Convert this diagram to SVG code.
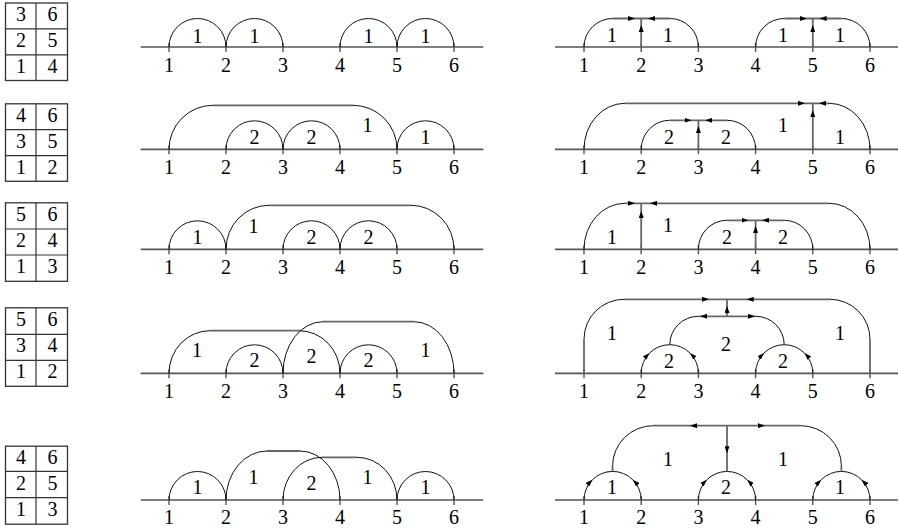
<svg xmlns="http://www.w3.org/2000/svg" width="899" height="528" viewBox="0 0 899 528">
<style>
text{font-family:"Liberation Serif","Times New Roman",serif;font-size:20px;text-anchor:middle;fill:#000}
.tb{fill:#fff;stroke:#333;stroke-width:1.3}
.tl{stroke:#333;stroke-width:1.2;fill:none}
.ax{stroke:#555;stroke-width:1.7;fill:none}
.tk{stroke:#555;stroke-width:1.4;fill:none}
.c{fill:none;stroke:#111;stroke-width:1}
.s{fill:none;stroke:#666;stroke-width:1.8}
.a{fill:none;stroke:none;marker-end:url(#ah)}
</style>
<defs>
<marker id="ah" viewBox="0 0 7 5" refX="7" refY="2.5" markerWidth="7" markerHeight="5" markerUnits="userSpaceOnUse" orient="auto"><path d="M0,0 L7,2.5 L0,5 Z" fill="#000"/></marker>
</defs>

<!-- Tableaux -->
<g id="tab1" transform="translate(5.5,3)">
<rect class="tb" x="0" y="0" width="62" height="77.5"/>
<path class="tl" d="M30.5,0 V77.5 M0,25.8 H62 M0,51.8 H62"/>
<text x="15.5" y="18">3</text><text x="47" y="18">6</text>
<text x="15.5" y="44">2</text><text x="47" y="44">5</text>
<text x="15.5" y="70">1</text><text x="47" y="70">4</text>
</g>
<g id="tab2" transform="translate(5.5,103.8)">
<rect class="tb" x="0" y="0" width="62" height="77.5"/>
<path class="tl" d="M30.5,0 V77.5 M0,25.8 H62 M0,51.8 H62"/>
<text x="15.5" y="18">4</text><text x="47" y="18">6</text>
<text x="15.5" y="44">3</text><text x="47" y="44">5</text>
<text x="15.5" y="70">1</text><text x="47" y="70">2</text>
</g>
<g id="tab3" transform="translate(5.5,202.8)">
<rect class="tb" x="0" y="0" width="62" height="78.5"/>
<path class="tl" d="M30.5,0 V78.5 M0,26.2 H62 M0,52.2 H62"/>
<text x="15.5" y="18">5</text><text x="47" y="18">6</text>
<text x="15.5" y="44">2</text><text x="47" y="44">4</text>
<text x="15.5" y="70">1</text><text x="47" y="70">3</text>
</g>
<g id="tab4" transform="translate(5.5,307.8)">
<rect class="tb" x="0" y="0" width="62" height="78.5"/>
<path class="tl" d="M30.5,0 V78.5 M0,26.5 H62 M0,52.5 H62"/>
<text x="15.5" y="18">5</text><text x="47" y="18">6</text>
<text x="15.5" y="44">3</text><text x="47" y="44">4</text>
<text x="15.5" y="70">1</text><text x="47" y="70">2</text>
</g>
<g id="tab5" transform="translate(5.5,446.2)">
<rect class="tb" x="0" y="0" width="62" height="78"/>
<path class="tl" d="M30.5,0 V78 M0,25.2 H62 M0,51.5 H62"/>
<text x="15.5" y="18">4</text><text x="47" y="18">6</text>
<text x="15.5" y="44">2</text><text x="47" y="44">5</text>
<text x="15.5" y="70">1</text><text x="47" y="70">3</text>
</g>

<!-- Axes with ticks and point labels -->
<g id="axes">
<path class="ax" d="M140.7,47 H483.3 M140.7,149.3 H483.3 M140.7,249.3 H483.3 M140.7,373.3 H483.3 M140.7,500 H483.3"/>
<path class="ax" d="M555,47 H898 M555,149.3 H898 M555,249.3 H898 M555,373.3 H898 M555,500 H898"/>
<path class="tk" d="M169,43V52M226,43V52M283,43V52M340,43V52M397,43V52M454,43V52
M169,145.3V154.3M226,145.3V154.3M283,145.3V154.3M340,145.3V154.3M397,145.3V154.3M454,145.3V154.3
M169,245.3V254.3M226,245.3V254.3M283,245.3V254.3M340,245.3V254.3M397,245.3V254.3M454,245.3V254.3
M169,369.3V378.3M226,369.3V378.3M283,369.3V378.3M340,369.3V378.3M397,369.3V378.3M454,369.3V378.3
M169,496V505M226,496V505M283,496V505M340,496V505M397,496V505M454,496V505"/>
<path class="tk" d="M584,43V52M641.2,43V52M698.4,43V52M755.6,43V52M812.8,43V52M870,43V52
M584,145.3V154.3M641.2,145.3V154.3M698.4,145.3V154.3M755.6,145.3V154.3M812.8,145.3V154.3M870,145.3V154.3
M584,245.3V254.3M641.2,245.3V254.3M698.4,245.3V254.3M755.6,245.3V254.3M812.8,245.3V254.3M870,245.3V254.3
M584,369.3V378.3M641.2,369.3V378.3M698.4,369.3V378.3M755.6,369.3V378.3M812.8,369.3V378.3M870,369.3V378.3
M584,496V505M641.2,496V505M698.4,496V505M755.6,496V505M812.8,496V505M870,496V505"/>
</g>
<g id="pointlabels">
<text x="169" y="71.5">1</text><text x="226" y="71.5">2</text><text x="283" y="71.5">3</text><text x="340" y="71.5">4</text><text x="397" y="71.5">5</text><text x="454" y="71.5">6</text>
<text x="169" y="173.5">1</text><text x="226" y="173.5">2</text><text x="283" y="173.5">3</text><text x="340" y="173.5">4</text><text x="397" y="173.5">5</text><text x="454" y="173.5">6</text>
<text x="169" y="273.5">1</text><text x="226" y="273.5">2</text><text x="283" y="273.5">3</text><text x="340" y="273.5">4</text><text x="397" y="273.5">5</text><text x="454" y="273.5">6</text>
<text x="169" y="397.5">1</text><text x="226" y="397.5">2</text><text x="283" y="397.5">3</text><text x="340" y="397.5">4</text><text x="397" y="397.5">5</text><text x="454" y="397.5">6</text>
<text x="169" y="524">1</text><text x="226" y="524">2</text><text x="283" y="524">3</text><text x="340" y="524">4</text><text x="397" y="524">5</text><text x="454" y="524">6</text>
<text x="584" y="71.5">1</text><text x="641.2" y="71.5">2</text><text x="698.4" y="71.5">3</text><text x="755.6" y="71.5">4</text><text x="812.8" y="71.5">5</text><text x="870" y="71.5">6</text>
<text x="584" y="173.5">1</text><text x="641.2" y="173.5">2</text><text x="698.4" y="173.5">3</text><text x="755.6" y="173.5">4</text><text x="812.8" y="173.5">5</text><text x="870" y="173.5">6</text>
<text x="584" y="273.5">1</text><text x="641.2" y="273.5">2</text><text x="698.4" y="273.5">3</text><text x="755.6" y="273.5">4</text><text x="812.8" y="273.5">5</text><text x="870" y="273.5">6</text>
<text x="584" y="397.5">1</text><text x="641.2" y="397.5">2</text><text x="698.4" y="397.5">3</text><text x="755.6" y="397.5">4</text><text x="812.8" y="397.5">5</text><text x="870" y="397.5">6</text>
<text x="584" y="524">1</text><text x="641.2" y="524">2</text><text x="698.4" y="524">3</text><text x="755.6" y="524">4</text><text x="812.8" y="524">5</text><text x="870" y="524">6</text>
</g>

<g id="connectors">
<!-- Middle column arc diagrams -->
<g id="mid1">
<path class="c" d="M169,47 A28.5,28.5 0 0 1 226,47 A28.5,28.5 0 0 1 283,47 M340,47 A28.5,28.5 0 0 1 397,47 A28.5,28.5 0 0 1 454,47"/>
</g>
<g id="mid2">
<path class="c" d="M169,149.3 A44,44 0 0 1 213,105.3 M353,105.3 A44,44 0 0 1 397,149.3"/>
<path class="s" d="M213,105.3 H353"/>
<path class="c" d="M226,149.3 A28.5,28.5 0 0 1 283,149.3 A28.5,28.5 0 0 1 340,149.3 M397,149.3 A28.5,28.5 0 0 1 454,149.3"/>
</g>
<g id="mid3">
<path class="c" d="M169,249.3 A28.5,28.5 0 0 1 226,249.3 M283,249.3 A28.5,28.5 0 0 1 340,249.3 A28.5,28.5 0 0 1 397,249.3"/>
<path class="c" d="M226,249.3 A43,44 0 0 1 269,205.3 M411,205.3 A43,44 0 0 1 454,249.3"/>
<path class="s" d="M269,205.3 H411"/>
</g>
<g id="mid4">
<path class="c" d="M169,373.3 A41,42.6 0 0 1 210,330.7 M299,330.7 A41,42.6 0 0 1 340,373.3"/>
<path class="s" d="M210,330.7 H299"/>
<path class="c" d="M283,373.3 A40,51.6 0 0 1 323,321.7 M414,321.7 A40,51.6 0 0 1 454,373.3"/>
<path class="s" d="M323,321.7 H414"/>
<path class="c" d="M226,373.3 A28.5,28.5 0 0 1 283,373.3 M340,373.3 A28.5,28.5 0 0 1 397,373.3"/>
</g>
<g id="mid5">
<path class="c" d="M169,500 A28.5,28.5 0 0 1 226,500 M397,500 A28.5,28.5 0 0 1 454,500"/>
<path class="c" d="M226,500 A41,49 0 0 1 267,451 M300,451 A40,49 0 0 1 340,500"/>
<path class="s" d="M267,451 H300"/>
<path class="c" d="M283,500 A39,42.7 0 0 1 322,457.3 M357,457.3 A40,42.7 0 0 1 397,500"/>
<path class="s" d="M322,457.3 H357"/>
</g>

<!-- Right column tree diagrams -->
<g id="right1">
<path class="c" d="M584,47 A28.6,28.5 0 0 1 612.6,18.5 M669.8,18.5 A28.6,28.5 0 0 1 698.4,47 M755.6,47 A28.6,28.5 0 0 1 784.2,18.5 M841.4,18.5 A28.6,28.5 0 0 1 870,47"/>
<path class="s" d="M612.6,18.5 H669.8 M641.2,47 V18.5 M784.2,18.5 H841.4 M812.8,47 V18.5"/>
<path class="a" d="M628,18.5 H635"/>
<path class="a" d="M655,18.5 H648"/>
<path class="a" d="M641.2,32 V25"/>
<path class="a" d="M799.8,18.5 H806.8"/>
<path class="a" d="M826.6,18.5 H819.6"/>
<path class="a" d="M812.8,32 V25"/>
</g>
<g id="right2">
<path class="c" d="M584,149.3 A41,46 0 0 1 625,103.3 M829,103.3 A41,46 0 0 1 870,149.3"/>
<path class="s" d="M625,103.3 H829 M812.8,149.3 V103.3"/>
<path class="c" d="M641.2,149.3 A28.5,29 0 0 1 669.7,120.3 M727.1,120.3 A28.5,29 0 0 1 755.6,149.3"/>
<path class="s" d="M669.7,120.3 H727.1 M698.4,149.3 V120.3"/>
<path class="a" d="M798,103.3 H805"/>
<path class="a" d="M826,103.3 H819"/>
<path class="a" d="M812.8,117 V110"/>
<path class="a" d="M684.5,120.3 H691.5"/>
<path class="a" d="M712.3,120.3 H705.3"/>
<path class="a" d="M698.4,133 V126"/>
</g>
<g id="right3">
<path class="c" d="M584,249.3 A41,46 0 0 1 625,203.3 M829,203.3 A41,46 0 0 1 870,249.3"/>
<path class="s" d="M625,203.3 H829 M641.2,249.3 V203.3"/>
<path class="c" d="M698.4,249.3 A28.5,29 0 0 1 726.9,220.3 M784.3,220.3 A28.5,29 0 0 1 812.8,249.3"/>
<path class="s" d="M726.9,220.3 H784.3 M755.6,249.3 V220.3"/>
<path class="a" d="M628,203.3 H635"/>
<path class="a" d="M657,203.3 H650"/>
<path class="a" d="M641.2,218 V211"/>
<path class="a" d="M741.5,220.3 H748.5"/>
<path class="a" d="M769,220.3 H762"/>
<path class="a" d="M755.6,233 V226"/>
</g>
<g id="right4">
<path class="s" d="M584,373.3 V339.3 M870,373.3 V339.3 M624,299.3 H830 M727,316.3 V299.3 M698.3,316.3 H755.7"/>
<path class="c" d="M584,339.3 A40,40 0 0 1 624,299.3 M830,299.3 A40,40 0 0 1 870,339.3"/>
<path class="c" d="M669.8,344.7 A28.5,28.4 0 0 1 698.3,316.3 M755.7,316.3 A28.5,28.4 0 0 1 784.2,344.7"/>
<path class="c" d="M641.2,373.3 A28.6,28.6 0 0 1 698.4,373.3 M755.6,373.3 A28.6,28.6 0 0 1 812.8,373.3"/>
<path class="a" d="M702,299.3 H709"/>
<path class="a" d="M753.7,299.3 H746.7"/>
<path class="a" d="M727,313 V306"/>
<path class="a" d="M707,316.3 H700"/>
<path class="a" d="M748,316.3 H755"/>
<path class="a" d="M645.03,359 A28.6,28.6 0 0 1 649.58,353.08"/>
<path class="a" d="M694.57,359 A28.6,28.6 0 0 0 690.02,353.08"/>
<path class="a" d="M759.43,359 A28.6,28.6 0 0 1 763.98,353.08"/>
<path class="a" d="M808.97,359 A28.6,28.6 0 0 0 804.42,353.08"/>
</g>
<g id="right5">
<path class="c" d="M584,500 A28.6,28.6 0 0 1 641.2,500 M698.4,500 A28.6,28.6 0 0 1 755.6,500 M812.8,500 A28.6,28.6 0 0 1 870,500"/>
<path class="s" d="M612.6,471.4 V466 M841.4,471.4 V466 M653.3,425.7 H800.7 M727,425.7 V471.4"/>
<path class="c" d="M612.6,466 A40.7,40.3 0 0 1 653.3,425.7 M800.7,425.7 A40.7,40.3 0 0 1 841.4,466"/>
<path class="a" d="M697,425.7 H690"/>
<path class="a" d="M758,425.7 H765"/>
<path class="a" d="M727,446.3 V453.3"/>
<path class="a" d="M587.83,485.7 A28.6,28.6 0 0 1 592.38,479.78"/>
<path class="a" d="M637.37,485.7 A28.6,28.6 0 0 0 632.82,479.78"/>
<path class="a" d="M702.23,485.7 A28.6,28.6 0 0 1 706.78,479.78"/>
<path class="a" d="M751.77,485.7 A28.6,28.6 0 0 0 747.22,479.78"/>
<path class="a" d="M816.63,485.7 A28.6,28.6 0 0 1 821.18,479.78"/>
<path class="a" d="M866.17,485.7 A28.6,28.6 0 0 0 861.62,479.78"/>
</g>
</g>

<!-- Region weight labels -->
<g id="weights">
<text x="197.5" y="43">1</text><text x="254.5" y="43">1</text><text x="368.5" y="43">1</text><text x="425.5" y="43">1</text>
<text x="254.5" y="144">2</text><text x="311.5" y="144">2</text><text x="367.5" y="132">1</text><text x="425.5" y="144">1</text>
<text x="197.5" y="244">1</text><text x="253.5" y="233">1</text><text x="311.5" y="244">2</text><text x="368.5" y="244">2</text>
<text x="197" y="356.5">1</text><text x="254.5" y="367">2</text><text x="311.5" y="362.5">2</text><text x="368.5" y="367">2</text><text x="425.5" y="356.5">1</text>
<text x="197.5" y="494">1</text><text x="253.5" y="483.5">1</text><text x="311.5" y="489.5">2</text><text x="367.5" y="483.5">1</text><text x="425.5" y="494">1</text>
<text x="612" y="42">1</text><text x="668" y="42">1</text><text x="783" y="42">1</text><text x="840" y="42">1</text>
<text x="669" y="143.5">2</text><text x="726" y="143.5">2</text><text x="783" y="132">1</text><text x="840" y="143.5">1</text>
<text x="612" y="244">1</text><text x="668" y="232">1</text><text x="727" y="244">2</text><text x="783" y="244">2</text>
<text x="612" y="339.5">1</text><text x="726" y="351">2</text><text x="840" y="339.5">1</text><text x="669" y="367.5">2</text><text x="783" y="367.5">2</text>
<text x="668" y="466">1</text><text x="783" y="466">1</text><text x="612" y="494">1</text><text x="726" y="494">2</text><text x="840" y="494">1</text>
</g>
</svg>
